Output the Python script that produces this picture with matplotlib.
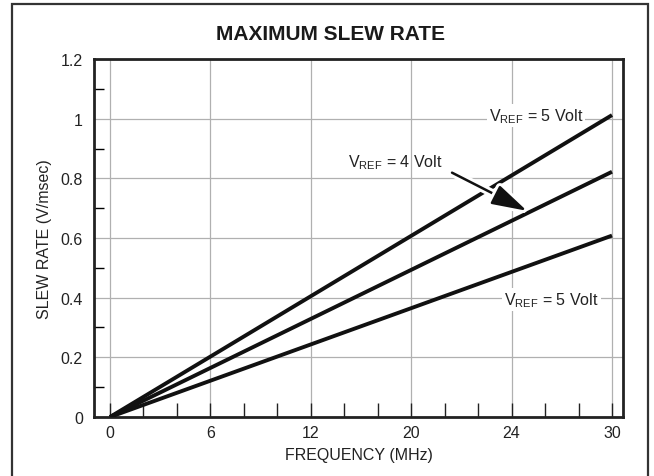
import numpy as np
import matplotlib.pyplot as plt
import matplotlib.patheffects as pe
from matplotlib.patches import Rectangle

plt.rcParams['font.family'] = ['Liberation Sans', 'DejaVu Sans']
plt.rcParams['mathtext.default'] = 'regular'

# frequency axis positions (MHz) and the printed tick labels
freq = [0, 30]
tick_pos = [0, 6, 12, 18, 24, 30]
tick_lab = ['0', '6', '12', '20', '24', '30']
y_ticks = [0, 0.2, 0.4, 0.6, 0.8, 1.0, 1.2]
y_lab = ['0', '0.2', '0.4', '0.6', '0.8', '1', '1.2']

# slew rate at 0 and 30 MHz for each curve
rate_top = [0, 1.012]
rate_mid = [0, 0.822]
rate_low = [0, 0.608]

fs = 11.5

fig = plt.figure(figsize=(6.54, 4.77), dpi=100)
ax = fig.add_axes([0.1437, 0.1237, 0.8089, 0.7505])

# outer frame (open at the bottom)
fig.patches.append(Rectangle((12 / 654, -0.1), 636 / 654, 1.1 - 5 / 477,
                             transform=fig.transFigure, fill=False,
                             edgecolor='#333333', lw=1.6))

fig.text(331 / 654, 1 - 35 / 477, 'MAXIMUM SLEW RATE', ha='center', va='center',
         fontsize=15, fontweight='bold', color='#1a1a1a')

for yy in y_ticks:
    ax.axhline(yy, color='#b0b0b0', lw=0.9, zorder=1)
for xx in tick_pos:
    ax.axvline(xx, color='#b0b0b0', lw=0.9, zorder=1)

for r in (rate_top, rate_mid, rate_low):
    ax.plot(freq, r, color='#111111', lw=2.8, solid_capstyle='butt', zorder=3)

ax.set_xlim(-0.956, 30.657)
ax.set_ylim(0, 1.2)

ax.set_xticks(tick_pos)
ax.set_xticklabels(tick_lab)
ax.set_xticks(np.arange(0, 31, 2), minor=True)
ax.set_yticks(y_ticks)
ax.set_yticklabels(y_lab)
ax.set_yticks(np.arange(0.1, 1.2, 0.2), minor=True)

ax.tick_params(axis='x', which='both', direction='in', length=10, width=1,
               labelsize=fs, pad=6, colors='#222222')
ax.tick_params(axis='y', which='major', length=0, labelsize=fs, pad=8,
               colors='#222222')
ax.tick_params(axis='y', which='minor', direction='in', length=7, width=1)

for s in ax.spines.values():
    s.set_linewidth(2.0)
    s.set_color('#222222')

ax.set_xlabel('FREQUENCY (MHz)', fontsize=fs, labelpad=5, color='#222222')
ax.set_ylabel('SLEW RATE (V/msec)', fontsize=fs, labelpad=6, color='#222222')

box = dict(facecolor='white', edgecolor='none', pad=1.5)
ax.text(25.46, 1.01, 'V$_{REF}$ = 5 Volt', ha='center', va='center',
        fontsize=fs, bbox=box, zorder=2, color='#222222')
ax.text(26.36, 0.393, 'V$_{REF}$ = 5 Volt', ha='center', va='center',
        fontsize=fs, bbox=box, zorder=2, color='#222222')
ax.text(17.03, 0.856, 'V$_{REF}$ = 4 Volt', ha='center', va='center',
        fontsize=fs, zorder=2, color='#222222')
ax.annotate('', xy=(24.92, 0.691), xytext=(20.44, 0.819),
            arrowprops=dict(arrowstyle='-|>,head_length=1.9,head_width=0.55',
                            mutation_scale=fs, color='#111111', lw=1.8,
                            shrinkA=0, shrinkB=0,
                            path_effects=[pe.Stroke(linewidth=6, foreground='white'),
                                          pe.Normal()]),
            zorder=4)

fig.savefig('out.png', dpi=100)
